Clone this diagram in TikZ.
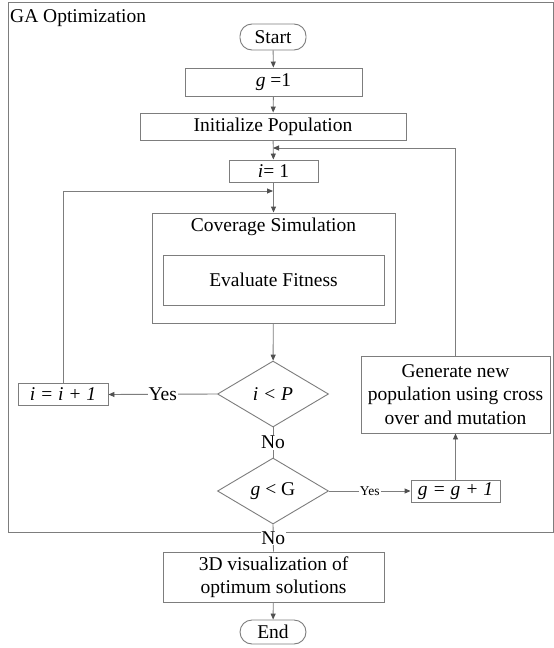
\documentclass[tikz,border=0pt]{standalone}
\usepackage{fontspec}
\setmainfont{Liberation Serif}
\usetikzlibrary{shapes.geometric,arrows.meta}

\definecolor{linegray}{RGB}{125,125,125}
\definecolor{tipgray}{RGB}{80,80,80}

\tikzset{
  box/.style={shape=rectangle,draw=linegray,line width=0.9pt,inner sep=0pt,align=center},
  term/.style={shape=rectangle,rounded corners=12pt,draw=linegray,line width=0.9pt,inner sep=0pt,minimum width=66pt,minimum height=26pt},
  decision/.style={shape=diamond,draw=linegray,line width=0.9pt,inner sep=0pt,minimum width=111pt,minimum height=66pt},
  lbl/.style={fill=white,inner sep=1pt},
  arr/.style={draw=linegray,line width=0.9pt,-{Triangle[length=6pt,width=5pt,color=tipgray]}},
  ln/.style={draw=linegray,line width=0.9pt},
}

\begin{document}
\begin{tikzpicture}[x=1pt,y=-1pt,font=\fontsize{19.5}{23.5}\selectfont]
\useasboundingbox[fill=white] (0,0) rectangle (554,648);
\draw[linegray,line width=0.9pt] (8,2) rectangle (553,532);
\node[anchor=base west,inner sep=0pt] (title) at (10,22) {GA Optimization};

\node[term] (start) at (273,37) {Start};
\node[box,minimum width=177pt,minimum height=28pt] (g1) at (273.5,82) {\textit{g} =1};
\node[box,minimum width=266pt,minimum height=27pt] (init) at (273,126.5) {Initialize Population};
\node[box,minimum width=89pt,minimum height=22pt] (i1) at (273.5,171) {\textit{i}= 1};
\node[box,minimum width=243pt,minimum height=110pt] (cov) at (273.5,268) {};
\node[inner sep=0pt] (covtxt) at (273.5,227) {Coverage Simulation};
\node[box,minimum width=221pt,minimum height=50pt] (eval) at (273.5,280) {Evaluate Fitness};
\node[decision] (ip) at (273,394) {\textit{i < P}};
\node[box,minimum width=90pt,minimum height=22pt] (iinc) at (63,394.5) {\textit{i = i + 1}};
\node[decision] (gG) at (273,491) {\textit{g} < G};
\node[box,minimum width=89pt,minimum height=22pt] (ginc) at (455.5,491) {\textit{g = g + 1}};
\node[box,minimum width=189pt,minimum height=77pt] (gen) at (455.5,394.5) {Generate new\\population using cross\\over and mutation};
\node[box,minimum width=221pt,minimum height=50pt] (vis) at (273.5,577) {3D visualization of\\optimum solutions};
\node[term,minimum height=24pt] (end) at (273,632) {End};

\coordinate (back1) at (273,148);
\coordinate (back2) at (273,191);

\path (start) edge[arr] (g1);
\path (g1) edge[arr] (init);
\path (init) edge[arr] (i1);
\path (i1) edge[arr] (cov);
\path (cov) edge[arr] (ip);
\path (ip.west) edge[arr] node[lbl] {Yes} (iinc.east);
\draw[arr] (iinc.north) |- (back2);
\draw[arr] (gen.north) |- (back1);
\path (ip.south) edge[ln] node[lbl] {No} (gG.north);
\path (gG.east) edge[arr] node[lbl,font=\fontsize{13.5}{16}\selectfont] {Yes} (ginc.west);
\path (ginc) edge[arr] (gen);
\path (gG.south) edge[ln] node[lbl,inner sep=0.5pt] {No} (vis.north);
\path (vis) edge[arr] (end);
\end{tikzpicture}
\end{document}
